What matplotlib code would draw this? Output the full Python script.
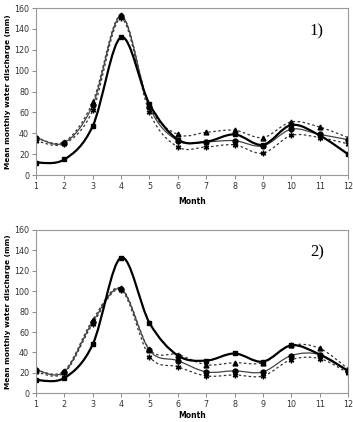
import matplotlib
matplotlib.use("Agg")
import matplotlib.pyplot as plt
import numpy as np
from matplotlib.path import Path
from matplotlib.patches import PathPatch

months = [1, 2, 3, 4, 5, 6, 7, 8, 9, 10, 11, 12]

# panel 1)
obs1 = [12, 15, 47, 132, 68, 34, 32, 39, 29, 48, 38, 20]
sim1 = [36, 31, 67, 152, 65, 33, 32, 33, 28, 44, 39, 34]
upp1 = [36, 32, 70, 153, 66, 39, 41, 43, 36, 51, 46, 36]
low1 = [33, 30, 62, 150, 60, 27, 27, 29, 21, 38, 36, 30]

# panel 2)
obs2 = [13, 15, 48, 133, 69, 37, 32, 39, 31, 47, 38, 22]
sim2 = [23, 21, 70, 102, 42, 32, 21, 22, 21, 37, 38, 22]
upp2 = [23, 22, 72, 103, 43, 38, 28, 30, 30, 47, 44, 24]
low2 = [21, 20, 68, 101, 36, 26, 17, 18, 17, 33, 34, 20]


def smooth_path(x, y):
    # Excel-like smoothed line as cubic bezier through the data points
    p = np.column_stack([x, y]).astype(float)
    n = len(p)
    verts = [p[0]]
    codes = [Path.MOVETO]
    for i in range(n - 1):
        p0 = p[i - 1] if i > 0 else p[i]
        p3 = p[i + 2] if i + 2 < n else p[i + 1]
        c1 = p[i] + (p[i + 1] - p0) / 6
        c2 = p[i + 1] - (p3 - p[i]) / 6
        verts += [c1, c2, p[i + 1]]
        codes += [Path.CURVE4] * 3
    return Path(verts, codes)


def draw(ax, y, lw, ls, color, marker, ms):
    ax.add_patch(PathPatch(smooth_path(months, y), fill=False, lw=lw,
                           ls=ls, edgecolor=color))
    ax.plot(months, y, ls="none", marker=marker, ms=ms, color="black",
            mec="black")


fig = plt.figure(figsize=(3.53, 4.22), dpi=100)
ax1 = fig.add_axes([0.102, 0.585, 0.884, 0.396])
ax2 = fig.add_axes([0.102, 0.068, 0.884, 0.387])

for ax, obs, sim, upp, low, lab, lp in [(ax1, obs1, sim1, upp1, low1, "1)", 4),
                                        (ax2, obs2, sim2, upp2, low2, "2)", 1)]:
    draw(ax, upp, 0.9, (0, (2, 2)), "#333333", "^", 3.5)
    draw(ax, low, 0.9, (0, (2, 2)), "#333333", (6, 2, 0), 4)
    draw(ax, sim, 0.9, "-", "#444444", "o", 3.5)
    draw(ax, obs, 1.6, "-", "black", "s", 3.5)
    ax.set_xlim(1, 12)
    ax.set_ylim(0, 160)
    ax.set_xticks(months)
    ax.set_yticks(range(0, 161, 20))
    ax.tick_params(labelsize=5.8, length=3, width=0.6, color="#777777",
                   labelcolor="#333333", pad=2)
    for s in ax.spines.values():
        s.set_color("#999999")
        s.set_linewidth(0.8)
    ax.set_xlabel("Month", fontsize=5.5, fontweight="bold", labelpad=lp)
    ax.set_ylabel("Mean monthly water discharge (mm)", fontsize=5.3,
                  fontweight="bold", labelpad=2)
    ax.text(0.9, 0.86, lab, transform=ax.transAxes, fontsize=12,
            family="Liberation Serif", ha="center", va="center")

fig.savefig("out.png", dpi=100)
